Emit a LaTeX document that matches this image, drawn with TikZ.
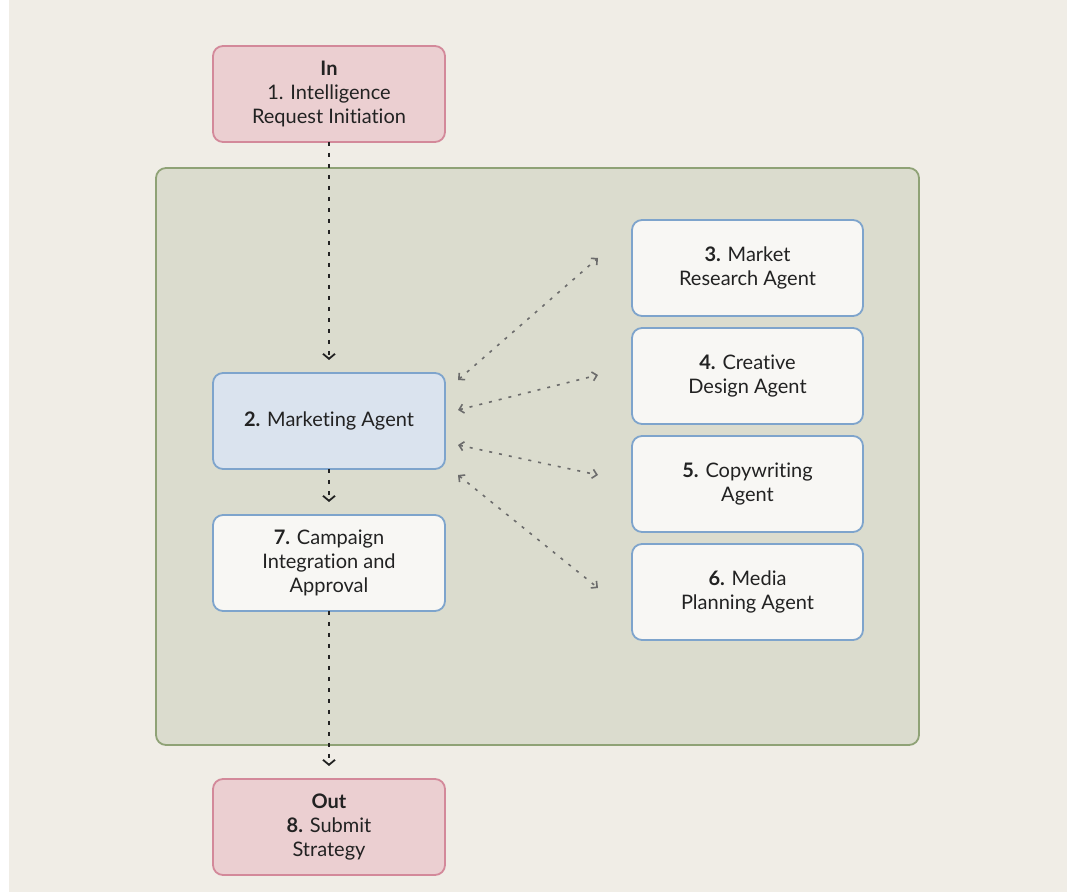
\documentclass[tikz,border=0pt]{standalone}
\usepackage{fontspec}
\setmainfont{Lato}[Ligatures={NoCommon,NoRare,NoContextual}]
\usepackage{xcolor}
\definecolor{paper}{HTML}{F0EDE6}
\definecolor{pool}{HTML}{DBDCCE}
\definecolor{poolline}{HTML}{8FA276}
\definecolor{rose}{HTML}{EBCFD1}
\definecolor{roseline}{HTML}{D3899A}
\definecolor{sky}{HTML}{DAE3EE}
\definecolor{skyline}{HTML}{7EA4CC}
\definecolor{chalk}{HTML}{F8F7F4}
\definecolor{ink}{HTML}{222222}
\usepackage{tikz}
\usetikzlibrary{arrows.meta,positioning}
\tikzset{
  box/.style={draw,rounded corners=10pt,line width=1.8pt,outer sep=0pt,%
    minimum width=232pt,minimum height=96pt,align=center,text=ink,%
    font=\fontsize{20pt}{24pt}\selectfont},
  stage/.style={box,fill=rose,draw=roseline},
  agent/.style={box,fill=sky,draw=skyline},
  task/.style={box,fill=chalk,draw=skyline},
  group/.style={draw=poolline,fill=pool,line width=1.8pt,rounded corners=10pt},
  flow/.style={-{Straight Barb[length=5pt,width=12pt]},line width=1.8pt,%
    dash pattern=on 4pt off 7pt,draw=ink,shorten >=13pt},
  link/.style={{Straight Barb[length=4.5pt,width=9pt]}-{Straight Barb[length=4.5pt,width=9pt]},%
    line width=1.6pt,dash pattern=on 3pt off 7pt,draw=gray!85!black},
}

\begin{document}
\begin{tikzpicture}[x=1pt,y=1pt,node distance=12pt]
\useasboundingbox (0,0) rectangle (1080,892);
\fill[paper] (9,0) rectangle (1067,892);
\draw[group] (156,147) rectangle (919,724);
\node[stage] (req) at (329,798) {\textbf{In}\\1. Intelligence\\Request Initiation};
\node[agent,below=231pt of req] (mkt) {\textbf{2.} Marketing Agent};
\node[task,below=46pt of mkt] (camp) {\textbf{7.} Campaign\\Integration and\\Approval};
\node[stage,below=168pt of camp] (out) {\textbf{Out}\\\textbf{8.} Submit\\Strategy};
\node[task,minimum width=231pt] (res) at (747.5,624) {\textbf{3.} Market\\Research Agent};
\node[task,minimum width=231pt,below=of res] (des) {\textbf{4.} Creative\\Design Agent};
\node[task,minimum width=231pt,below=of des] (copy) {\textbf{5.} Copywriting\\Agent};
\node[task,minimum width=231pt,below=of copy] (media) {\textbf{6.} Media\\Planning Agent};
\draw[flow] (req) -- (mkt);
\draw[flow] (mkt) -- (camp);
\draw[flow] (camp) -- (out);
\draw[link] ([shift={(13pt,41pt)}]mkt.east) -- ([shift={(-34pt,10pt)}]res.west);
\draw[link] ([shift={(13pt,11pt)}]mkt.east) -- ([shift={(-34pt,1pt)}]des.west);
\draw[link] ([shift={(13pt,-24pt)}]mkt.east) -- ([shift={(-34pt,9pt)}]copy.west);
\draw[link] ([shift={(13pt,-54pt)}]mkt.east) -- ([shift={(-34pt,4pt)}]media.west);
\end{tikzpicture}
\end{document}
